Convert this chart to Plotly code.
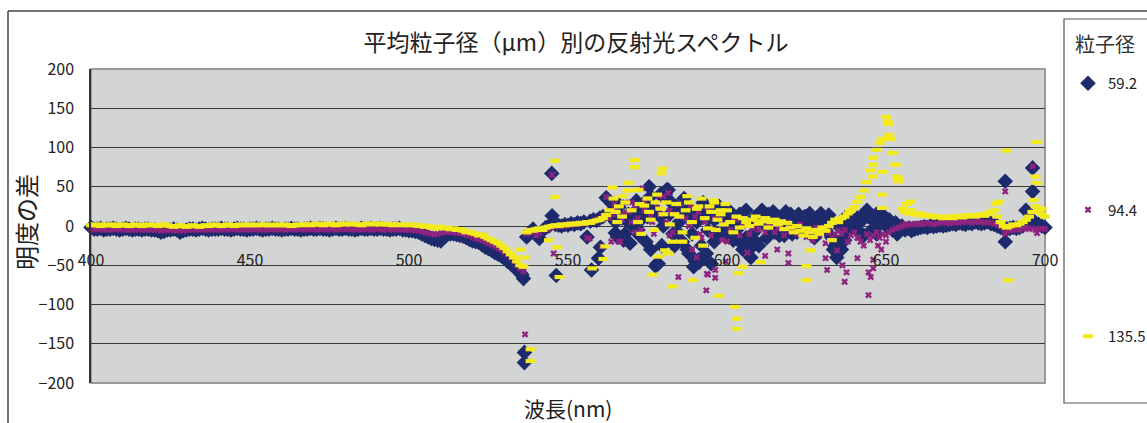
import plotly.graph_objects as go

# ---- data -----------------------------------------------------------------
wavelength = list(range(400, 701))

# 平均粒子径 59.2 µm
diff_592 = [
    -2, -4, -4, -3, -5, -4, -4, -3, -4, -5,      # 400
    -4, -3, -4, -5, -4, -4, -5, -4, -4, -5,      # 410
    -5, -6, -8, -7, -5, -5, -4, -5, -8, -6,      # 420
    -5, -4, -4, -5, -4, -3, -4, -5, -4, -4,      # 430
    -4, -3, -4, -4, -5, -4, -3, -4, -4, -5,      # 440
    -4, -4, -3, -4, -5, -4, -4, -3, -4, -4,      # 450
    -5, -4, -4, -3, -4, -4, -5, -4, -4, -3,      # 460
    -4, -4, -3, -4, -4, -5, -4, -3, -4, -4,      # 470
    -3, -4, -4, -5, -4, -3, -4, -4, -3, -4,      # 480
    -4, -3, -4, -4, -5, -4, -4, -3, -5, -5,      # 490
    -6, -6, -7, -8, -10, -12, -14, -16, -17, -18,  # 500
    -19, -14, -11, -10, -10, -11, -12, -13, -15, -17,  # 510
    -19, -20, -21, -24, -27, -29, -31, -34, -36, -38,  # 520
    -41, -45, -48, -52, -56, -60, -67, -14, -8, -4,    # 530
    -10, -16, -6, -2, 0, 13, 2, 1, 0, 2,         # 540
    1, 3, 2, 4, 3, 5, -14, 6, 8, 7,              # 550
    10, 12, 36, 14, 20, 5, 24, 10, -10, 15,      # 560
    2, 18, -5, 8, 30, 12, -30, 20, -48, 40,      # 570
    0, 46, 15, -10, 25, 5, -20, 18, -35, 10,     # 580
    -45, 20, -25, 12, -5, 25, 8, -10, 15, 5,     # 590
    -12, 10, 3, -5, 15, 8, -15, -30, 5, 12,      # 600
    -25, 10, 0, 15, 5, -8, 12, 3, -12, 8,        # 610
    15, 0, -8, 10, 3, -5, 12, 5, -10, 8,         # 620
    12, -5, 3, -15, -25, 0, 5, 10, -5, 8,        # 630
    0, 10, 5, 15, 20, 12, 8, 15, 3, 10,          # 640
    0, 8, -5, 4, -8, 0, -5, -3, -6, -4,          # 650
    -3, -2, -1, -2, 0, -1, 0, 1, 0, 1,           # 660
    2, 3, 2, 4, 3, 2, 4, 3, 5, 4,                # 670
    3, 4, 5, 3, 2, 0, -2, -3, -4, -3,            # 680
    -2, -3, -2, 0, 3, 5, 8, 4, 2, 0,             # 690
    -2,                                          # 700
]

# 平均粒子径 94.4 µm
diff_944 = [
    -4, -5, -4, -4, -5, -4, -5, -4, -4, -5,      # 400
    -4, -5, -5, -4, -5, -4, -5, -5, -4, -5,      # 410
    -5, -5, -6, -6, -5, -5, -6, -5, -6, -6,      # 420
    -5, -5, -4, -5, -5, -4, -5, -5, -4, -5,      # 430
    -4, -5, -4, -5, -4, -4, -5, -4, -5, -4,      # 440
    -5, -4, -4, -5, -4, -5, -4, -4, -5, -4,      # 450
    -4, -5, -4, -4, -5, -4, -4, -5, -4, -4,      # 460
    -4, -5, -4, -4, -5, -4, -4, -5, -4, -4,      # 470
    -4, -4, -5, -4, -4, -5, -4, -4, -5, -4,      # 480
    -4, -4, -5, -4, -4, -5, -4, -5, -5, -5,      # 490
    -5, -5, -6, -6, -7, -8, -9, -10, -11, -10,   # 500
    -9, -8, -7, -8, -8, -9, -9, -10, -11, -12,   # 510
    -14, -16, -17, -18, -20, -22, -24, -26, -28, -30,  # 520
    -33, -36, -40, -44, -49, -54, -58, -10, -8, -6,    # 530
    -12, -9, -5, -3, -4, 65, -1, 0, 1, 0,        # 540
    2, 1, 3, 2, 4, 3, -15, 5, 6, 8,              # 550
    9, 12, 37, 10, 15, 22, -20, 8, 30, 18,       # 560
    5, 25, 10, -5, 20, 35, 12, -10, 28, 15,      # 570
    38, 5, 20, -8, 15, 28, -20, 10, 0, -30,      # 580
    12, 18, -15, 5, 22, -12, 10, -5, 15, 3,      # 590
    -20, -5, 10, 8, -12, 0, 5, -10, -3, 3,       # 600
    -5, 8, -8, 0, 5, -8, -3, 2, -12, 4,          # 610
    -6, -3, -10, 2, -5, -14, -8, -18, -2, -12,   # 620
    -5, -22, -8, -15, -10, -6, -10, -5, -20, -12,  # 630
    -8, -15, -20, -25, -10, -18, -12, -8, -15, -10,  # 640
    -12, -8, -5, -3, -2, 0, 2, 1, 3, 2,          # 650
    3, 2, 3, 4, 3, 2, 3, 4, 5, 4,                # 660
    3, 4, 5, 4, 5, 6, 5, 4, 5, 6,                # 670
    5, 4, 5, 4, 3, 2, 0, -3, -5, -6,             # 680
    -5, -4, -5, -3, -2, -4, -3, -5, -4, -3,      # 690
    -4,                                          # 700
]

# 平均粒子径 135.5 µm
diff_1355 = [
    1, 2, 1, 0, 2, 1, 1, 2, 0, 1,                # 400
    2, 1, 0, 1, 2, 1, 0, 1, 2, 1,                # 410
    1, 0, 1, 2, 1, 0, -1, 0, 1, 0,               # 420
    -1, 0, 1, 0, -1, 0, 1, 0, 1, 2,              # 430
    1, 0, 1, 2, 1, 0, 1, 2, 1, 1,                # 440
    2, 1, 1, 2, 1, 2, 1, 1, 2, 1,                # 450
    1, 2, 1, 0, 1, 2, 1, 2, 2, 1,                # 460
    2, 3, 2, 1, 2, 3, 2, 1, 2, 3,                # 470
    2, 3, 2, 3, 2, 1, 2, 3, 3, 2,                # 480
    3, 2, 3, 2, 2, 1, 2, 2, 1, 2,                # 490
    1, 2, 1, 0, 1, -1, 0, -2, -3, -1,            # 500
    -2, -3, -2, -4, -3, -5, -4, -6, -8, -7,      # 510
    -9, -10, -12, -11, -14, -16, -18, -20, -22, -25,   # 520
    -28, -32, -36, -40, -45, -50, -52, -8, -5, -6,     # 530
    -4, -3, -5, -2, -1, 0, 1, 0, 2, 1,           # 540
    2, 3, 2, 3, 4, 3, 5, 4, 6, 7,                # 550
    8, 10, 14, 20, 49, 18, 25, 12, 30, 45,       # 560
    20, 84, 5, -10, 26, 35, 8, -5, 40, 22,       # 570
    15, 30, 2, -20, 28, 12, -8, 20, 30, 5,       # 580
    -15, 25, 35, 10, -3, 18, 30, 8, 15, 2,       # 590
    20, 5, -8, 12, -2, 10, 5, 0, 8, 12,          # 600
    3, 6, 10, -2, 5, 8, 2, 6, -4, 4,             # 610
    -2, -8, 0, -6, -12, -3, -8, -14, -5, -10,    # 620
    -2, -6, 0, 4, 8, 5, 10, 12, 16, 20,          # 630
    24, 31, 37, 45, 56, 71, 87, 97, 106, 111,    # 640
    139, 116, 93, 78, 60, 22, 18, 16, 20, 15,    # 650
    14, 16, 13, 14, 12, 13, 11, 12, 10, 11,      # 660
    12, 10, 12, 13, 11, 12, 14, 13, 12, 14,      # 670
    15, 13, 16, 18, 20, 12, 5, 0, -2, 0,         # 680
    2, 1, 3, 5, 8, 12, 18, 25, 20, 15,           # 690
    12,                                          # 700
]

# repeated scans recorded at intermediate wavelengths
extra_wl_592 = [536.3, 536.3, 535.5, 544.9, 546.3, 557.4, 559.6, 560.2, 564.9, 562.7,
                565.5, 567.5, 575.5, 577.5, 578.4, 576.5, 580.6, 581.5, 583.5, 587.5,
                589.5, 591.0, 591.3, 593.5, 595.0, 603.5, 605.0, 607.5, 609.0, 611.0,
                618.5, 626.0, 634.5, 636.0, 637.0, 641.5, 643.0, 644.5, 645.5, 647.0,
                649.0, 651.0, 653.5, 687.5, 687.5, 694.0, 696.1, 696.1,
                565.8, 568.3, 569.5, 571.5, 572.5, 573.5, 574.5, 576.0, 579.0, 579.5,
                582.5, 584.5, 585.5, 586.5, 588.5, 589.0, 590.5, 592.5, 594.5, 596.0,
                597.5, 599.0, 600.5, 602.0, 604.5, 606.0, 608.5, 612.5, 614.5, 616.5,
                620.5, 622.5, 624.5, 627.5, 629.5, 632.0, 633.5, 635.5, 638.5]
extra_diff_592 = [-161, -174, -62, 67, -63, -56, -41, -27, -9, 33,
                  -14, -18, 50, -51, -48, 24, 40, 46, -25, -30,
                  -52, -43, -46, -35, -48, -14, -30, -40, -20, 20,
                  18, 16, -40, -30, -18, -8, -12, 12, -5, -10,
                  14, 5, -10, 57, -20, 20, 74, 44,
                  28, 8, -22, 32, -12, 22, -20, 38, 12, -25,
                  30, -8, 15, 35, 22, -10, 5, 30, 12, -20,
                  25, -5, 20, -18, -22, 20, -8, -15, 18, -12,
                  -10, 15, 12, -15, 16, 14, -30, -20, 10]

extra_wl_944 = [536.5, 545.5, 556.8, 560.6, 563.6, 566.4, 570.0, 573.3, 581.6, 584.7,
                590.5, 593.5, 593.7, 594.0, 596.3, 596.3, 599.6, 606.4, 612.0, 615.8,
                619.3, 619.3, 631.0, 631.5, 634.6, 636.3, 637.6, 637.0, 641.0, 641.3,
                644.5, 645.2, 644.5, 646.0, 646.0, 647.5, 648.5, 650.0, 687.5, 687.5,
                696.1, 697.5,
                564.5, 567.5, 571.0, 574.0, 576.5, 578.5, 582.0, 585.0, 588.5, 591.5,
                595.5, 598.5]
extra_diff_944 = [-138, -35, -16, -26, -20, -20, 30, 48, 42, -65,
                  -40, -82, -61, -62, -56, -66, -45, -34, -38, -30,
                  -35, -47, -41, -56, -31, -50, -59, -71, -41, -15,
                  -88, -65, -59, -54, -43, -25, -30, -20, 44, -10,
                  76, -9,
                  28, 15, -8, 32, 5, 38, -12, 12, 25, -10,
                  30, -18]

extra_wl_1355 = [538.2, 538.2, 535.0, 536.5, 544.0, 546.0, 546.0, 546.6, 547.3, 557.6,
                 561.1, 561.7, 564.3, 568.7, 569.0, 570.9, 572.2, 576.5, 578.4, 579.4,
                 579.7, 580.5, 581.6, 582.8, 586.0, 589.4, 592.5, 595.8, 597.3, 598.0,
                 602.6, 603.2, 603.2, 603.6, 605.0, 610.5, 625.0, 625.0, 626.2, 633.0,
                 645.7, 646.0, 648.7, 648.7, 649.0, 650.5, 650.8, 651.4, 652.3, 653.0,
                 653.5, 653.9, 656.5, 657.6, 684.5, 685.4, 687.8, 688.5, 696.4, 697.0,
                 697.3, 697.3, 699.0,
                 565.5, 567.0, 572.5, 575.5, 577.5, 583.5, 587.5, 590.5, 594.5, 596.5,
                 599.5]
extra_diff_1355 = [-157, -172, -30, -40, -18, 83, 37, -27, -65, -54,
                   -42, -26, 35, 45, 55, 75, 46, -62, -39, 67,
                   73, -31, -35, -77, -20, -69, -25, 33, -89, 20,
                   -103, -118, -131, -60, -52, -46, -51, -69, -31, -18,
                   63, 78, 40, 23, 69, 133, 130, 111, 93, 78,
                   63, 57, 28, 31, 28, 31, 96, -69, 33, 63,
                   107, 55, 22,
                   5, 38, 28, 18, 30, 15, 38, 22, 25, -5,
                   28]

series_names = ["59.2", "94.4", "135.5"]
tick_wl = [400, 450, 500, 550, 600, 650, 700]
tick_diff = [-200, -150, -100, -50, 0, 50, 100, 150, 200]

# ---- figure ---------------------------------------------------------------
W, H = 1147, 423
ML, MR, MT, MB = 91, 102, 69, 40
PW, PH = W - ML - MR, H - MT - MB


def px(x):
    return (x - ML) / PW


def py(y):
    return (H - MB - y) / PH


FONT = "Noto Sans CJK JP, Liberation Sans, sans-serif"
INK = "#222222"

fig = go.Figure()

styles = [
    dict(symbol="diamond", size=12, color="#1d2a6c", line=dict(width=0)),
    dict(symbol="x", size=6, color="#8e2480", line=dict(width=0)),
    dict(symbol="line-ew", size=7, color="#f2ea1a", line=dict(width=4.2, color="#f2ea1a")),
]
series = [
    (diff_592, extra_wl_592, extra_diff_592),
    (diff_944, extra_wl_944, extra_diff_944),
    (diff_1355, extra_wl_1355, extra_diff_1355),
]

for i, (name, st, (base, ewl, ediff)) in enumerate(zip(series_names, styles, series)):
    fig.add_trace(go.Scatter(
        x=wavelength + ewl,
        y=base + ediff,
        mode="markers",
        name=name,
        legendgroup=f"g{i}",
        marker=st,
        cliponaxis=False,
    ))


def label(text, x, y, size, color=INK, angle=0):
    return dict(text=text, x=px(x), y=py(y), xref="paper", yref="paper",
                xanchor="center", yanchor="middle", textangle=angle,
                showarrow=False, font=dict(size=size, family=FONT, color=color))


fig.update_layout(
    width=W, height=H,
    margin=dict(l=ML, r=MR, t=MT, b=MB, autoexpand=False),
    paper_bgcolor="white",
    plot_bgcolor="#d3d5d5",
    font=dict(family=FONT, color=INK),
    title=dict(
        text="平均粒子径（μm）別の反射光スペクトル",
        x=576 / W, xanchor="center", xref="container",
        y=1 - 43 / H, yanchor="middle", yref="container",
        font=dict(size=23, family=FONT, color=INK),
    ),
    showlegend=True,
    legend=dict(
        xref="container", yref="container",
        x=1068 / W, xanchor="left",
        y=1 - 67 / H, yanchor="top",
        maxheight=400,
        bgcolor="rgba(0,0,0,0)",
        font=dict(size=15, family=FONT, color=INK),
        tracegroupgap=104,
        traceorder="grouped",
    ),
    xaxis=dict(
        range=[400, 700],
        tickvals=tick_wl,
        showgrid=False, zeroline=False, showline=False,
        ticks="",
        anchor="free", position=py(249),
        tickfont=dict(size=16, family=FONT, color=INK),
    ),
    yaxis=dict(
        range=[-200, 200],
        tickvals=tick_diff,
        showgrid=True, gridcolor="#3a3a3a", gridwidth=1,
        zeroline=False,
        showline=True, linecolor="#333333", linewidth=1.5,
        ticks="", ticklabelstandoff=12,
        tickfont=dict(size=16, family=FONT, color=INK),
    ),
    annotations=[
        label("明度の差", 25, 222, 24, angle=-90),
        label("波長(nm)", 568, 408, 21),
        label("粒子径", 1105, 44, 20, color="#333333"),
    ],
    shapes=[
        # plot area frame
        dict(type="rect", xref="paper", yref="paper", x0=0, x1=1, y0=0, y1=1,
             line=dict(color="#9a9a9a", width=2), layer="below"),
        # outer chart frame (top and left edges)
        dict(type="line", xref="paper", yref="paper", x0=px(8), x1=px(W + 5), y0=py(11), y1=py(11),
             line=dict(color="#444444", width=1.5)),
        dict(type="line", xref="paper", yref="paper", x0=px(8), x1=px(8), y0=py(11), y1=py(H + 5),
             line=dict(color="#444444", width=1.5)),
        # legend box
        dict(type="rect", xref="paper", yref="paper", x0=px(1064), x1=px(W + 5), y0=py(403), y1=py(19),
             line=dict(color="#555555", width=1.2)),
    ],
)

fig.write_html("out.html")
